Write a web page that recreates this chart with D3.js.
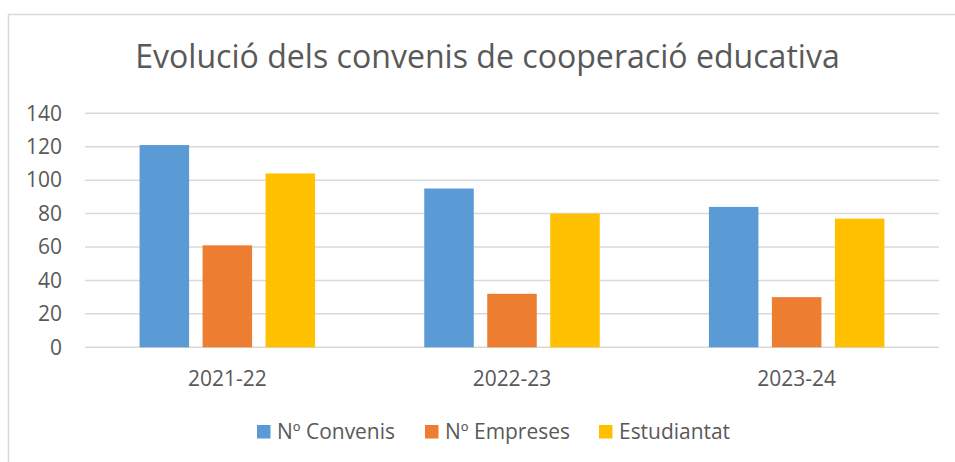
<!DOCTYPE html>
<html>
<head>
<meta charset="utf-8">
<script src="https://cdn.jsdelivr.net/npm/d3@7"></script>
<style>
  html, body { margin: 0; padding: 0; background: #fff; }
  svg { display: block; }
  text { font-family: "Open Sans", sans-serif; fill: #595959; }
</style>
</head>
<body>
<svg id="chart" width="955" height="462"></svg>
<script>
// ---- data ----
const title = "Evolució dels convenis de cooperació educativa";
const categories = ["2021-22", "2022-23", "2023-24"];
const seriesNames = ["Nº Convenis", "Nº Empreses", "Estudiantat"];
const convenis = [121, 95, 84];
const empreses = [61, 32, 30];
const estudiantat = [104, 80, 77];
const yTicks = [0, 20, 40, 60, 80, 100, 120, 140];
const colors = ["#5B9BD5", "#ED7D31", "#FFC000"];

function draw() {
const seriesValues = [convenis, empreses, estudiantat];
const rows = categories.map((c, i) => ({
  cat: c,
  vals: seriesNames.map((s, j) => ({ key: s, value: seriesValues[j][i], color: colors[j] }))
}));

const svg = d3.select("#chart");
svg.selectAll("*").remove();

// warm-up text so the font is laid out before measuring
const warm = svg.append("text").attr("font-size", 20).text("0123456789 Nº Convenis");
warm.node().getComputedTextLength();
warm.remove();

function fitSize(str, target) {
  const tmp = svg.append("text").attr("font-size", 20).text(str);
  const w = tmp.node().getComputedTextLength();
  tmp.remove();
  return 20 * target / w;
}
const yFs = fitSize("140", 36);
const tickFs = yFs;
const legFs = fitSize("Nº Convenis", 118);
const titleFs = fitSize(title, 705);

// outer border of chart area
svg.append("rect")
  .attr("x", 8.5).attr("y", 14.5)
  .attr("width", 980).attr("height", 480)
  .attr("fill", "none").attr("stroke", "#d9d9d9").attr("stroke-width", 1.5);

const pLeft = 85, pRight = 939, pTop = 113.3, pBottom = 347.3;

const y = d3.scaleLinear().domain([0, 140]).range([pBottom, pTop]);
const x0 = d3.scaleBand().domain(categories).range([pLeft, pRight]).paddingInner(0).paddingOuter(0);
const groupW = 175.5;
const x1 = d3.scaleBand().domain(seriesNames)
  .range([x0.bandwidth() / 2 - groupW / 2, x0.bandwidth() / 2 + groupW / 2])
  .paddingInner(0.214).paddingOuter(0);

// gridlines
svg.append("g").selectAll("line").data(yTicks).join("line")
  .attr("x1", pLeft).attr("x2", pRight)
  .attr("y1", d => y(d)).attr("y2", d => y(d))
  .attr("stroke", "#d9d9d9").attr("stroke-width", 1.5);

// y axis labels
const yAxis = d3.axisLeft(y).tickValues(yTicks).tickSize(0).tickPadding(0);
const yg = svg.append("g").attr("transform", "translate(62,0)").call(yAxis);
yg.attr("font-family", null).attr("font-size", null);
yg.select(".domain").remove();
yg.selectAll("text").attr("font-size", yFs).attr("fill", "#595959");

// bars
const groups = svg.append("g").selectAll("g").data(rows).join("g")
  .attr("transform", d => `translate(${x0(d.cat)},0)`);
groups.selectAll("rect").data(d => d.vals).join("rect")
  .attr("x", d => x1(d.key))
  .attr("width", x1.bandwidth())
  .attr("y", d => y(d.value))
  .attr("height", d => pBottom - y(d.value))
  .attr("fill", d => d.color);

// x axis labels
const xAxis = d3.axisBottom(x0).tickSize(0).tickPadding(0);
const xg = svg.append("g").attr("transform", `translate(0,${pBottom})`).call(xAxis);
xg.attr("font-family", null).attr("font-size", null);
xg.select(".domain").remove();
xg.selectAll("text").attr("font-size", tickFs).attr("fill", "#595959")
  .attr("dy", null).attr("y", 38.5);

// title
svg.append("text").attr("x", 487.5).attr("y", 67.5)
  .attr("text-anchor", "middle").attr("font-size", titleFs).text(title);

// legend
const legend = svg.append("g");
const items = legend.selectAll("g").data(seriesNames).join("g");
items.append("rect").attr("width", 13.5).attr("height", 13.5).attr("y", 425)
  .attr("fill", (d, i) => colors[i]);
items.append("text").attr("x", 20).attr("y", 438.5).attr("font-size", legFs).text(d => d);
const itemX = [0, 168, 342];
items.attr("transform", (d, i) => `translate(${257 + itemX[i]},0)`);
}

draw();
if (document.fonts && document.fonts.load) {
  document.fonts.load('20px "Open Sans"').then(draw).catch(() => {});
}
</script>
</body>
</html>
